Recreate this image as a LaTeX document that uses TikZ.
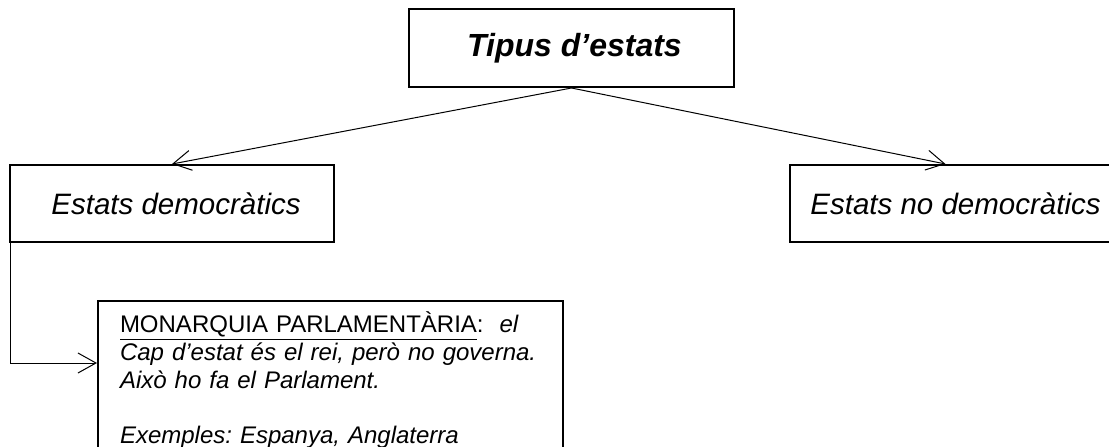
\documentclass[tikz,border=0pt]{standalone}
\usepackage{fontspec}
\setmainfont{Liberation Sans}
\usetikzlibrary{arrows.meta}
\frenchspacing
\newcommand{\monstrut}{\rule[-6pt]{0pt}{26.6pt}}

\begin{document}
\begin{tikzpicture}[x=1pt, y=-1pt,
  box/.style={draw, line width=2pt, rectangle, inner sep=0pt, font=\fontsize{29.5}{33}\selectfont\itshape},
  arr/.style={line width=1pt, -{Straight Barb[length=18pt,width=20pt]}}]
\useasboundingbox (0,0) rectangle (1109,447);
\clip (0,0) rectangle (1109,447);
\node[box, minimum width=325pt, minimum height=78pt, font=\fontsize{32}{36}\selectfont\itshape] (tipus) at (571.5,48) {\hspace{6pt}\bfseries Tipus d’estats};
\node[box, minimum width=324pt, minimum height=77pt] (dem) at (172,203.5) {\hspace{8pt}Estats democràtics};
\node[box, minimum width=331pt, minimum height=77pt] (nodem) at (955.5,203.5) {Estats no democràtics};
\node[box, anchor=north west, align=left, text width=421pt, inner xsep=22pt, inner ysep=11pt, font=\fontsize{24}{27.6}\selectfont\itshape] (mon) at (97,300) {\monstrut\textup{\underline{MONARQUIA PARLAMENTÀRIA}:}~ el\\
\monstrut Cap d’estat és el rei, però no governa.\\
\monstrut Això ho fa el Parlament.\\
\monstrut\\
\monstrut Exemples: Espanya, Anglaterra};
\draw[arr] (tipus.south) -- (dem.north);
\draw[arr] (tipus.south) -- ([xshift=-10pt]nodem.north);
\draw[arr] ([xshift=1pt]dem.south west) |- ([yshift=-63pt]mon.north west);
\end{tikzpicture}
\end{document}
